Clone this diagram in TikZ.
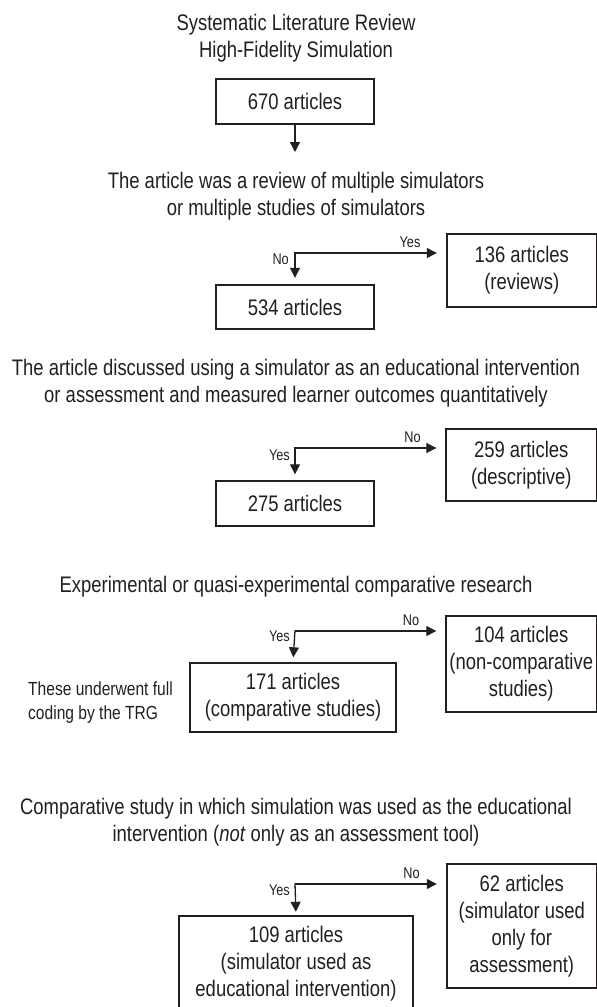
\documentclass[tikz,border=0pt]{standalone}
\usepackage{fontspec}
\setmainfont{Liberation Sans}[FakeStretch=0.82]
\usetikzlibrary{arrows.meta}
\definecolor{ink}{HTML}{231F20}
\tikzset{
  box/.style={draw=ink, line width=1.4pt, inner sep=0pt, align=center, text=ink,
    font=\fontsize{22.5}{27}\selectfont},
  qtext/.style={inner sep=0pt, align=center, text=ink, font=\fontsize{22.5}{27}\selectfont},
  note/.style={inner sep=0pt, align=left, text=ink, font=\fontsize{19}{24}\selectfont},
  lbl/.style={inner sep=0pt, text=ink, font=\fontsize{15.5}{18}\selectfont},
  arr/.style={draw=ink, line width=1.3pt, -{Triangle[length=10pt,width=10pt]}},
}
\begin{document}
\begin{tikzpicture}[x=1pt,y=-1pt]
\useasboundingbox (0,0) rectangle (597,1007);

% titles and questions
\node[qtext] (title) at (296,38.5) {Systematic Literature Review\\High-Fidelity Simulation};
\node[qtext] (q1) at (296,196) {The article was a review of multiple simulators\\or multiple studies of simulators};
\node[qtext] (q2) at (296,383) {The article discussed using a simulator as an educational intervention\\or assessment and measured learner outcomes quantitatively};
\node[qtext] (q3) at (296,587) {Experimental or quasi-experimental comparative research};
\node[qtext] (q4) at (296,822) {Comparative study in which simulation was used as the educational\\intervention (\textit{not} only as an assessment tool)};

% boxes
\node[box, minimum width=158pt, minimum height=45pt] (b670) at (295,101.5) {670 articles};
\node[box, minimum width=149.5pt, minimum height=73pt] (b136) at (521.75,270.5) {136 articles\\(reviews)};
\node[box, minimum width=158pt, minimum height=44pt] (b534) at (295,307) {534 articles};
\node[box, minimum width=150.5pt, minimum height=72pt] (b259) at (521.25,465) {259 articles\\(descriptive)};
\node[box, minimum width=158pt, minimum height=45pt] (b275) at (295,503.5) {275 articles};
\node[box, minimum width=150.5pt, minimum height=96pt] (b104) at (521.25,664) {104 articles\\(non-comparative\\studies)};
\node[box, minimum width=206pt, minimum height=69pt] (b171) at (293,697.5) {171 articles\\(comparative studies)};
\node[box, minimum width=149.5pt, minimum height=124pt] (b62) at (521.75,926) {62 articles\\(simulator used\\only for\\assessment)};
\node[box, minimum width=234pt, minimum height=95pt] (b109) at (296,963.5) {109 articles\\(simulator used as\\educational intervention)};

\node[note, anchor=west] (nTRG) at (28,703) {These underwent full\\coding by the TRG};

% junctions
\coordinate (t1) at (295,152);
\coordinate (j1) at (295,253);
\coordinate (j2) at (295,448);
\coordinate (j3) at (295,631);
\coordinate (j4) at (295,884);

% connectors
\draw[arr] (b670.south) -- (t1);

\draw[arr, shorten >=9.5pt] (j1) -- (j1 -| b136.west);
\draw[arr, shorten >=6.5pt] ([yshift=0.65pt]j1) -- (b534.north);
\draw[arr, shorten >=9pt] (j2) -- (j2 -| b259.west);
\draw[arr, shorten >=6pt] ([yshift=0.65pt]j2) -- (b275.north);
\draw[arr, shorten >=9pt] (j3) -- (j3 -| b104.west);
\draw[arr, shorten >=5pt] ([yshift=0.65pt]j3) -- (b171.north);
\draw[arr, shorten >=9.5pt] (j4) -- (j4 -| b62.west);
\draw[arr, shorten >=3.5pt] ([yshift=0.65pt]j4) -- (b109.north);

% labels
\node[lbl, anchor=east] (l1n) at (289,259) {No};
\node[lbl] (l1y) at (410,242) {Yes};
\node[lbl] (l2n) at (412.5,437) {No};
\node[lbl, anchor=east] (l2y) at (290,455) {Yes};
\node[lbl] (l3n) at (411,620) {No};
\node[lbl, anchor=east] (l3y) at (290,636) {Yes};
\node[lbl] (l4n) at (411.5,873) {No};
\node[lbl, anchor=east] (l4y) at (290,890) {Yes};
\end{tikzpicture}
\end{document}
